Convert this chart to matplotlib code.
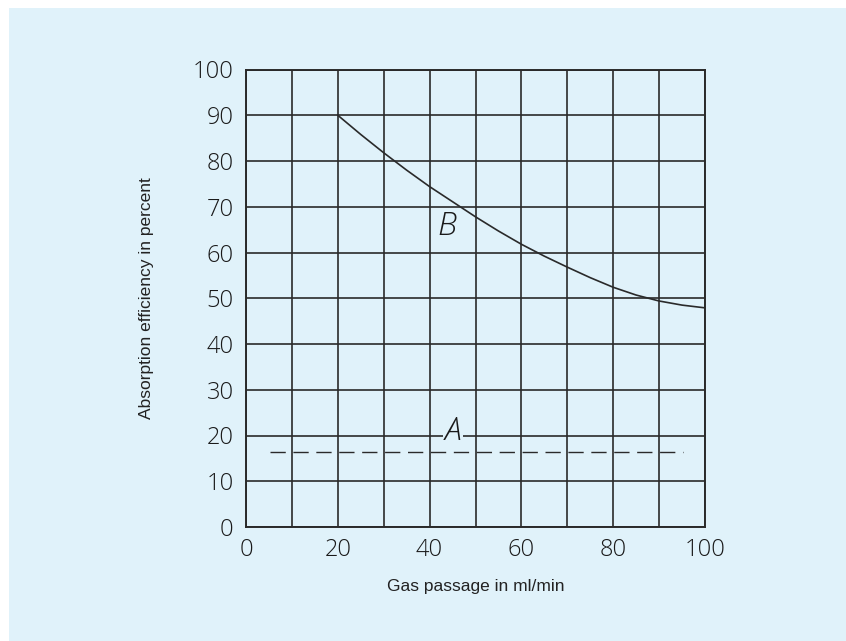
import numpy as np
import matplotlib.pyplot as plt
import matplotlib as mpl
from matplotlib.patches import Rectangle

# curve B
gas_b = [20, 25, 30, 35, 40, 45, 50, 55, 60, 65, 70, 75, 80, 85, 90, 95, 100]
eff_b = [90, 85.8, 81.8, 78.0, 74.4, 71.1, 67.8, 64.7, 61.8, 59.2, 56.8, 54.5, 52.4, 50.7, 49.4, 48.5, 47.9]

# line A (dashed, constant)
gas_a = [5.2, 95.2]
eff_a = [16.4, 16.4]

xticks = [0, 20, 40, 60, 80, 100]
yticks = [0, 10, 20, 30, 40, 50, 60, 70, 80, 90, 100]

bg = "#e0f2fa"
ink = "#2a2a2a"
txt = "#1a1a1a"

mpl.rcParams["font.family"] = ["Open Sans", "DejaVu Sans"]

fig = plt.figure(figsize=(8.46, 6.41), dpi=100)
fig.patch.set_facecolor("white")
fig.patches.append(Rectangle((9 / 846, 0), 1, 1 - 8 / 641, transform=fig.transFigure,
                             facecolor=bg, edgecolor="none", zorder=-10))

ax = fig.add_axes([246 / 846, 114 / 641, 459 / 846, 457.5 / 641])
ax.set_facecolor(bg)
ax.set_xlim(0, 100)
ax.set_ylim(0, 100)

ax.set_yticks(np.arange(0, 101, 10))
ax.set_xticks(xticks)
ax.set_xticks(np.arange(10, 100, 20), minor=True)
ax.grid(True, which="both", color=ink, linewidth=1.2)
ax.set_axisbelow(True)
for s in ax.spines.values():
    s.set_color(ink)
    s.set_linewidth(1.4)

ax.set_xticklabels([str(t) for t in xticks])
ax.set_yticklabels([str(t) for t in yticks])
ax.tick_params(length=0, which="both", labelsize=17, labelcolor=txt)
ax.tick_params(axis="y", pad=9)
ax.tick_params(axis="x", pad=8)
for lab in ax.get_xticklabels() + ax.get_yticklabels():
    lab.set_fontweight("light")

ax.plot(gas_b, eff_b, color=ink, linewidth=1.2, zorder=3)
ax.plot(gas_a, eff_a, color=ink, linewidth=1.0, dashes=(11, 5.5), zorder=3)

ax.text(45.1, 20.8, "A", fontsize=23, style="italic", fontweight="light", color=txt,
        ha="center", va="center", zorder=4,
        bbox=dict(facecolor=bg, edgecolor="none", pad=1))
ax.text(43.7, 65.6, "B", fontsize=23, style="italic", fontweight="light", color=txt,
        ha="center", va="center", zorder=4)

ax.set_xlabel("Gas passage in ml/min", family="Liberation Sans", fontsize=12.5, color="#222222", labelpad=12)
ax.set_ylabel("Absorption efficiency in percent", family="Liberation Sans", fontsize=12.5, color="#222222", labelpad=28)

fig.savefig("out.png", dpi=100, facecolor=fig.get_facecolor())
